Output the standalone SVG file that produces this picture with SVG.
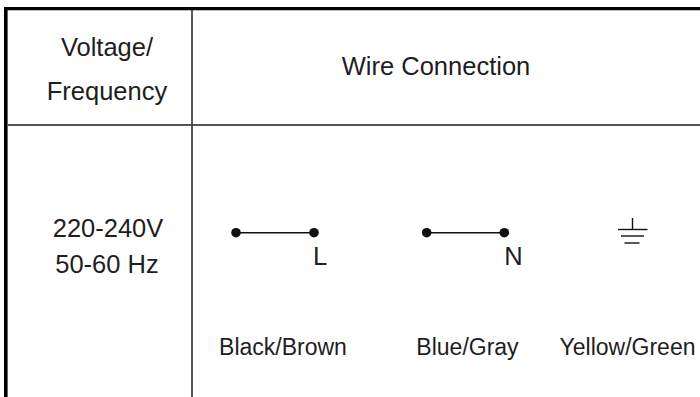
<svg xmlns="http://www.w3.org/2000/svg" width="700" height="397" viewBox="0 0 700 397">
  <style>
    .t { font-family: "Liberation Sans", Arial, sans-serif; fill: #1e1e1e; }
    .h { font-size: 25.5px; }
    .s { font-size: 23px; }
    .wire { stroke: #111; stroke-width: 1.4; fill: none; }
    .dot { fill: #111; }
  </style>
  <rect width="700" height="397" fill="#ffffff"/>
  <g id="table">
    <line x1="5.8" y1="7" x2="5.8" y2="397" stroke="#000" stroke-width="3.6"/>
    <line x1="4" y1="8.6" x2="700" y2="8.6" stroke="#000" stroke-width="3.2"/>
    <line x1="7" y1="125" x2="700" y2="125" stroke="#555" stroke-width="2"/>
    <line x1="192" y1="10" x2="192" y2="397" stroke="#444" stroke-width="1.8"/>
  </g>
  <g id="header-voltage">
    <text class="t h" x="107" y="56" text-anchor="middle">Voltage/</text>
    <text class="t h" x="107" y="100" text-anchor="middle">Frequency</text>
  </g>
  <g id="header-wire">
    <text class="t h" x="436" y="75" text-anchor="middle">Wire Connection</text>
  </g>
  <g id="rating">
    <text class="t h" x="108" y="237" text-anchor="middle">220-240V</text>
    <text class="t h" x="107" y="273" text-anchor="middle">50-60 Hz</text>
  </g>
  <g id="connectors">
    <line class="wire" x1="236" y1="232.7" x2="314" y2="232.7"/>
    <line class="wire" x1="426.7" y1="232.7" x2="504.3" y2="232.7"/>
  </g>
  <g id="live">
    <circle class="dot" cx="236" cy="232.7" r="4.8"/>
    <circle class="dot" cx="314" cy="232.7" r="4.8"/>
    <text class="t h" x="320" y="265" text-anchor="middle">L</text>
    <text class="t s" x="283" y="355" text-anchor="middle">Black/Brown</text>
  </g>
  <g id="neutral">
    <circle class="dot" cx="426.7" cy="232.7" r="4.8"/>
    <circle class="dot" cx="504.3" cy="232.7" r="4.8"/>
    <text class="t h" x="513.5" y="265" text-anchor="middle">N</text>
    <text class="t s" x="467.5" y="355" text-anchor="middle">Blue/Gray</text>
  </g>
  <g id="ground">
    <line class="wire" x1="632.5" y1="218" x2="632.5" y2="229.5"/>
    <line class="wire" x1="618" y1="229.5" x2="647.5" y2="229.5"/>
    <line class="wire" x1="621" y1="236" x2="644" y2="236"/>
    <line class="wire" x1="624.5" y1="243" x2="639.5" y2="243"/>
    <text class="t s" x="627.5" y="355" text-anchor="middle">Yellow/Green</text>
  </g>
</svg>
